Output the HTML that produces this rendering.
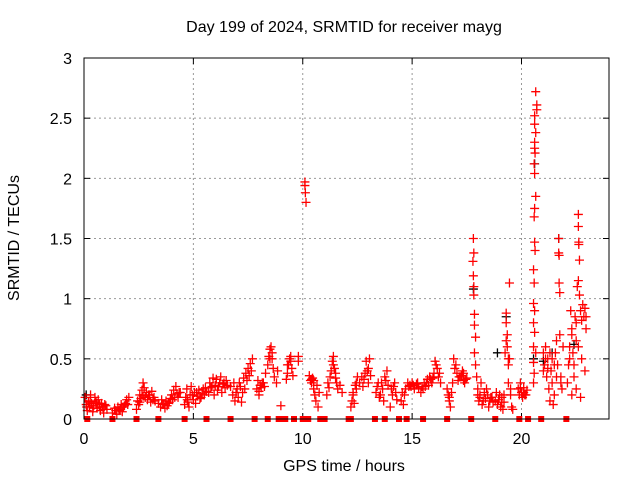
<!DOCTYPE html>
<html><head><meta charset="utf-8"><style>
body{margin:0;background:#fff;}
svg{display:block;font-family:"Liberation Sans",sans-serif;}
</style></head><body>
<svg id="chart" width="640" height="480" viewBox="0 0 640 480">
<rect x="0" y="0" width="640" height="480" fill="#fff"/>
<text x="344" y="32" font-size="16" text-anchor="middle">Day 199 of 2024, SRMTID for receiver mayg</text>
<text transform="translate(19,238) rotate(-90)" font-size="16" text-anchor="middle">SRMTID / TECUs</text>
<text x="344" y="471" font-size="16" text-anchor="middle">GPS time / hours</text>
<g id="grid"></g><g id="ticks"></g><g id="marks"></g>
<rect x="84" y="58" width="525" height="361" fill="none" stroke="#000" stroke-width="1"/>
</svg>
<script>
const xTicks=[0,5,10,15,20];
const yTicks=[0,0.5,1,1.5,2,2.5,3];
const yTickLabels=["0","0.5","1","1.5","2","2.5","3"];
const redHours=[
0.05,0.1,0.15,0.2,0.25,0.3,0.35,0.4,0.45,0.5,0.55,0.6,0.65,0.7,0.75,0.8,0.85,0.9,0.95,1.05,
1.3,1.4,1.5,1.55,1.6,1.7,1.75,1.8,1.9,1.95,2.0,2.05,
2.4,2.45,2.5,2.55,2.6,2.65,2.7,2.75,2.8,2.85,2.9,3.0,3.05,3.1,3.2,3.25,
3.4,3.5,3.55,3.6,3.7,3.75,3.8,3.9,3.95,4.0,4.05,4.1,4.2,4.25,4.3,4.4,
4.6,4.65,4.7,4.75,4.8,4.85,4.9,5.0,5.05,5.1,5.2,5.25,5.3,5.4,5.45,5.5,5.6,
5.7,5.75,5.8,5.9,5.95,6.0,6.05,6.1,6.2,6.25,6.3,6.4,6.45,6.5,
6.7,6.8,6.85,6.9,7.0,7.05,7.1,7.2,7.25,7.3,7.4,7.45,7.5,7.55,7.6,7.7,
7.9,7.95,8.0,8.05,8.1,8.2,8.3,8.4,8.45,8.5,8.55,8.6,8.65,8.7,8.8,8.85,
9.0,9.25,9.3,9.35,9.4,9.45,9.5,9.55,9.8,9.8,
10.1,10.1,10.12,10.15,
10.3,10.35,10.4,10.45,10.5,10.55,10.6,10.65,10.7,10.75,
11.1,11.15,11.2,11.3,11.35,11.4,11.45,11.5,11.55,11.6,11.7,11.8,
12.2,12.25,12.3,12.35,12.4,12.45,12.5,
12.6,12.7,12.75,12.8,12.9,12.95,13.0,13.05,13.1,
13.35,13.4,13.5,13.6,13.65,13.7,13.8,13.85,13.9,14.0,14.1,14.2,14.3,
14.5,14.55,14.6,14.7,14.8,14.9,14.95,15.0,15.1,15.2,15.3,
15.4,15.5,15.55,15.6,15.7,15.75,15.8,15.9,16.0,16.05,16.1,16.2,16.3,
16.6,16.65,16.7,16.75,16.8,16.85,16.9,17.0,17.05,17.1,17.2,
17.25,17.3,17.35,17.4,17.5,
17.8,17.82,17.78,17.8,17.82,17.82,17.85,17.85,17.9,17.85,17.9,17.95,18.0,18.05,18.1,18.15,18.2,18.3,18.35,18.4,18.5,18.6,18.7,
18.8,18.9,19.0,19.05,19.1,19.15,19.2,19.25,19.3,19.3,19.35,19.35,19.4,19.4,19.45,19.5,19.55,19.6,19.45,
19.85,19.9,19.95,20.0,20.05,20.1,20.2,20.25,
20.65,20.7,20.7,20.6,20.6,20.65,20.6,20.6,20.62,20.58,20.6,20.65,20.6,20.58,20.6,20.62,20.55,20.58,20.55,20.55,20.6,20.55,20.55,20.58,20.55,
21.0,21.05,21.1,21.15,21.2,21.25,21.3,21.35,21.4,21.45,21.5,21.55,21.6,21.65,21.7,21.7,21.72,21.72,21.75,21.75,21.8,21.85,21.9,
22.1,22.15,22.2,22.25,22.3,22.35,22.4,22.45,22.5,22.55,22.6,22.6,22.62,22.62,22.65,22.6,22.65,22.7,22.75,22.8,22.85,22.9,22.95,22.3,22.5,22.7
];
const redValues=[
0.18,0.12,0.07,0.14,0.1,0.2,0.13,0.06,0.11,0.18,0.14,0.09,0.16,0.12,0.07,0.13,0.1,0.05,0.12,0.08,
0.05,0.09,0.04,0.1,0.07,0.12,0.06,0.1,0.13,0.16,0.12,0.18,
0.08,0.15,0.12,0.2,0.17,0.24,0.3,0.26,0.18,0.22,0.16,0.2,0.14,0.23,0.18,0.15,
0.13,0.1,0.16,0.12,0.09,0.15,0.11,0.14,0.17,0.2,0.16,0.24,0.27,0.21,0.18,0.22,
0.12,0.18,0.25,0.14,0.1,0.2,0.27,0.16,0.22,0.13,0.19,0.24,0.17,0.21,0.25,0.2,0.23,
0.22,0.3,0.26,0.34,0.2,0.28,0.33,0.24,0.3,0.35,0.22,0.3,0.26,0.32,
0.27,0.2,0.3,0.15,0.25,0.18,0.3,0.14,0.22,0.34,0.38,0.32,0.42,0.36,0.46,0.5,
0.25,0.32,0.2,0.28,0.26,0.3,0.38,0.45,0.52,0.58,0.6,0.5,0.42,0.35,0.3,0.4,
0.11,0.33,0.38,0.45,0.5,0.52,0.42,0.36,0.52,0.48,
1.97,1.94,1.88,1.8,
0.36,0.32,0.3,0.34,0.25,0.2,0.15,0.28,0.1,0.22,
0.2,0.3,0.26,0.4,0.48,0.52,0.42,0.34,0.3,0.25,0.28,0.22,
0.1,0.15,0.22,0.13,0.28,0.25,0.35,
0.3,0.35,0.27,0.33,0.48,0.4,0.3,0.5,0.36,
0.22,0.27,0.18,0.3,0.25,0.15,0.32,0.4,0.28,0.1,0.2,0.3,0.16,
0.15,0.22,0.12,0.25,0.3,0.28,0.27,0.3,0.25,0.29,0.26,
0.22,0.25,0.3,0.27,0.33,0.28,0.35,0.3,0.38,0.48,0.45,0.35,0.3,
0.25,0.2,0.15,0.1,0.22,0.3,0.5,0.45,0.38,0.32,0.35,
0.36,0.4,0.32,0.3,0.34,
1.5,1.38,1.31,1.19,1.1,1.03,0.87,0.78,0.68,0.55,0.45,0.35,0.25,0.15,0.2,0.3,0.12,0.22,0.17,0.25,0.1,0.18,0.14,
0.15,0.12,0.2,0.1,0.18,0.08,0.14,0.55,0.88,0.8,0.7,0.6,0.45,0.3,0.5,0.2,0.1,0.08,1.13,
0.25,0.2,0.3,0.22,0.18,0.26,0.2,0.24,
2.72,2.61,2.57,2.52,2.45,2.38,2.3,2.25,2.21,2.12,2.04,1.85,1.75,1.68,1.47,1.4,1.24,1.13,0.96,0.8,0.72,0.6,0.47,0.38,0.3,
0.55,0.45,0.6,0.35,0.5,0.25,0.15,0.4,0.3,0.12,0.2,0.55,0.65,0.45,1.5,1.38,1.36,1.13,1.05,0.7,0.35,0.25,0.6,
0.3,0.45,0.6,0.9,0.75,0.55,0.35,0.85,0.65,1.1,1.7,1.6,1.47,1.45,1.32,1.15,1.03,0.9,0.82,0.95,0.85,0.4,0.75,0.2,0.25,0.18
];
const extraHours=[
0.12,0.28,0.42,0.58,0.72,0.88,1.0,1.45,1.65,1.85,2.55,2.7,2.95,3.15,3.65,3.85,4.15,4.35,
4.72,4.95,5.15,5.35,5.55,5.85,6.15,6.35,6.55,6.95,7.15,7.35,7.65,8.0,8.15,8.25,8.5,8.6,
9.3,9.45,10.4,10.5,11.25,11.4,11.5,12.3,12.45,12.85,13.0,13.45,13.55,13.75,14.05,14.15,14.25,
14.65,14.85,15.05,15.25,15.45,15.65,15.85,15.95,16.15,16.25,16.7,16.95,17.15,17.35,17.45,
18.0,18.1,18.25,18.45,18.55,18.65,18.85,18.95,19.1,19.2,19.3,19.4,19.5,19.95,20.1,20.15,
20.6,20.65,21.0,21.1,21.2,21.3,21.4,21.5,21.6,21.8,22.2,22.3,22.4,22.5,22.6,22.75,22.9,22.95
];
const extraValues=[
0.1,0.15,0.09,0.13,0.1,0.08,0.11,0.07,0.08,0.11,0.14,0.19,0.2,0.16,0.12,0.13,0.18,0.22,
0.16,0.2,0.22,0.18,0.26,0.27,0.27,0.29,0.28,0.22,0.27,0.25,0.4,0.23,0.3,0.27,0.5,0.55,
0.45,0.48,0.33,0.32,0.35,0.45,0.38,0.2,0.3,0.38,0.42,0.3,0.2,0.35,0.25,0.27,0.22,
0.2,0.27,0.28,0.3,0.27,0.3,0.33,0.34,0.42,0.38,0.18,0.42,0.35,0.38,0.33,
0.2,0.18,0.15,0.2,0.15,0.18,0.22,0.16,0.14,0.2,0.65,0.5,0.25,0.26,0.22,0.2,
0.9,0.55,0.4,0.5,0.42,0.55,0.5,0.45,0.35,0.3,0.5,0.7,0.45,0.8,0.6,0.5,0.92,0.85
];
const blackHours=[0.1,17.8,19.3,20.6,20.55,18.9,21.4,21.7,22.4,21.0];
const blackValues=[0.2,1.08,0.85,2.12,0.5,0.55,0.55,1.5,0.62,0.48];
const zeroHours=[0.15,1.3,2.4,3.4,4.6,5.6,6.7,7.8,8.4,8.9,9.0,9.1,9.2,9.6,10.0,10.25,10.8,11.0,12.1,12.2,13.3,13.75,14.4,14.75,15.5,16.6,17.7,18.8,19.9,20.3,20.9,22.05];

const X0=84,X1=609,Y0=419,Y1=58,XMAX=24,YMAX=3;
function xs(h){return X0+(h/XMAX)*(X1-X0);}
function ys(v){return Y0-(v/YMAX)*(Y0-Y1);}
const NS="http://www.w3.org/2000/svg";
function mk(tag,attrs,parent){const e=document.createElementNS(NS,tag);for(const k in attrs)e.setAttribute(k,attrs[k]);parent.appendChild(e);return e;}
const grid=document.getElementById('grid'),ticks=document.getElementById('ticks'),marks=document.getElementById('marks');
xTicks.forEach(t=>{
  const x=xs(t);
  if(t>0){const g=mk('line',{x1:x,y1:Y1,x2:x,y2:Y0,stroke:'#999','stroke-dasharray':'2,3','stroke-width':1},grid);
  
  }
  mk('line',{x1:x,y1:Y0,x2:x,y2:Y0-6,stroke:'#000'},ticks);
  mk('line',{x1:x,y1:Y1,x2:x,y2:Y1+6,stroke:'#000'},ticks);
  const l=mk('text',{x:x,y:444,'font-size':16,'text-anchor':'middle'},ticks);
  l.textContent=String(t);
  
  
});
yTicks.forEach((t,i)=>{
  const y=ys(t);
  if(t>0&&t<YMAX){const g=mk('line',{x1:X0,y1:y,x2:X1,y2:y,stroke:'#999','stroke-dasharray':'2,3','stroke-width':1},grid);
  
  }
  mk('line',{x1:X0,y1:y,x2:X0+6,y2:y,stroke:'#000'},ticks);
  mk('line',{x1:X1,y1:y,x2:X1-6,y2:y,stroke:'#000'},ticks);
  const l=mk('text',{x:72,y:y+6,'font-size':16,'text-anchor':'end'},ticks);
  l.textContent=yTickLabels[i];
  
  
});
function plus(h,v,color,name){
  const x=xs(h),y=ys(v);
  const p=mk('path',{d:`M${x-4.5},${y}H${x+4.5}M${x},${y-4.5}V${y+4.5}`,stroke:color,'stroke-width':1.3,fill:'none'},marks);
  
  
}
blackHours.forEach((h,i)=>plus(h,blackValues[i],'#000','black-point'));
redHours.forEach((h,i)=>plus(h,redValues[i],'#f00','srmtid-point'));
extraHours.forEach((h,i)=>plus(h,extraValues[i],'#f00','srmtid-point'));
zeroHours.forEach(h=>{
  const r=mk('rect',{x:xs(h)-3,y:Y0-3,width:6,height:6,fill:'#f00'},marks);
  
  
});
</script>
</body></html>
